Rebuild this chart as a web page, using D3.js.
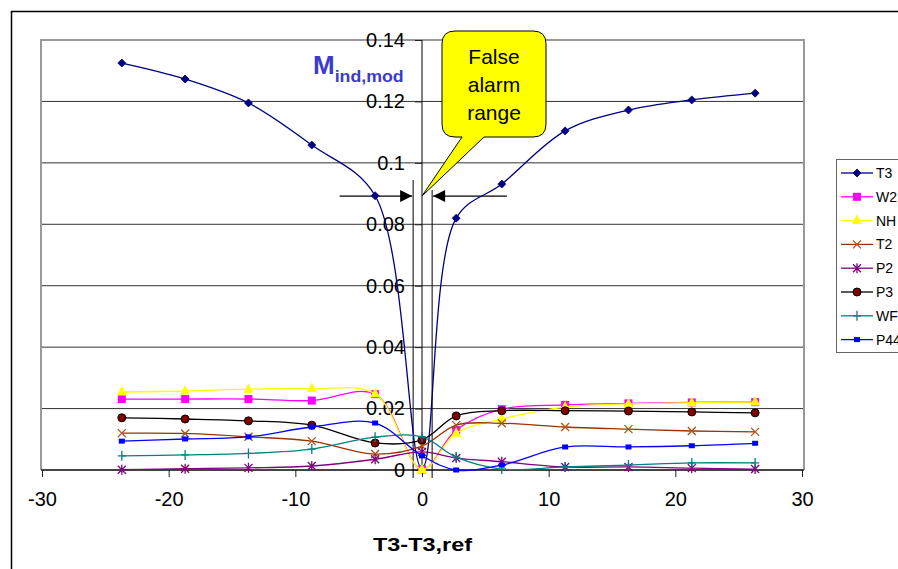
<!DOCTYPE html>
<html>
<head>
<meta charset="utf-8">
<script src="https://cdn.jsdelivr.net/npm/d3@7"></script>
<style>
  body { margin: 0; background: #fff; }
  svg { display: block; font-family: Arial, "Liberation Sans", sans-serif; }
</style>
</head>
<body>
<div class="vis"></div>
<script>
// x positions shared by all series (T3 - T3,ref)
const xVals = [-23.7, -18.7, -13.7, -8.7, -3.7, 0, 2.7, 6.3, 11.3, 16.3, 21.3, 26.3];

const t3  = [0.1325, 0.1273, 0.1195, 0.1058, 0.0893, 0.0005, 0.082, 0.0931, 0.1104, 0.1172, 0.1205, 0.1227];
const w2  = [0.0231, 0.0231, 0.0231, 0.0226, 0.0247, 0.0002, 0.013, 0.0198, 0.0212, 0.0217, 0.022, 0.0221];
const nh  = [0.0254, 0.0257, 0.0263, 0.0265, 0.0248, 0.0002, 0.012, 0.0166, 0.0205, 0.0215, 0.0219, 0.0221];
const t2  = [0.012, 0.0119, 0.0108, 0.0094, 0.0052, 0.0078, 0.0146, 0.0152, 0.014, 0.0133, 0.0127, 0.0124];
const p2  = [0.0001, 0.0004, 0.0007, 0.0013, 0.0035, 0.0059, 0.0039, 0.0027, 0.001, 0.001, 0.0006, 0.0003];
const p3  = [0.017, 0.0166, 0.016, 0.0146, 0.0088, 0.0098, 0.0176, 0.0193, 0.0193, 0.0192, 0.0189, 0.0186];
const wf  = [0.0046, 0.0049, 0.0054, 0.0068, 0.0107, 0.0108, 0.0042, 0.0003, 0.001, 0.0016, 0.0023, 0.0023];
const p44 = [0.0094, 0.0101, 0.0108, 0.014, 0.0153, 0.0046, 0.0, 0.0016, 0.0075, 0.0075, 0.0079, 0.0087];

const seriesNames = ["T3", "W2", "NH", "T2", "P2", "P3", "WF", "P44"];
const xTicks = [-30, -20, -10, 0, 10, 20, 30];
const yTicks = [0, 0.02, 0.04, 0.06, 0.08, 0.1, 0.12, 0.14];

const series = [
  { name: "T3",  values: t3,  line: "#000080", fill: "#000080", stroke: "#000080", marker: "diamond" },
  { name: "W2",  values: w2,  line: "#ff00ff", fill: "#ff00ff", stroke: "#ff00ff", marker: "square" },
  { name: "NH",  values: nh,  line: "#ffff00", fill: "#ffff00", stroke: "#ffff00", marker: "triangle" },
  { name: "T2",  values: t2,  line: "#993300", fill: "none",    stroke: "#b0501a", marker: "x" },
  { name: "P2",  values: p2,  line: "#800080", fill: "none",    stroke: "#800080", marker: "star" },
  { name: "P3",  values: p3,  line: "#000000", fill: "#800000", stroke: "#000000", marker: "circle" },
  { name: "WF",  values: wf,  line: "#008080", fill: "none",    stroke: "#008080", marker: "plus" },
  { name: "P44", values: p44, line: "#0000ff", fill: "#0000ff", stroke: "#0000ff", marker: "smallsquare" }
];

const W = 898, H = 569;
const plot = { left: 42, right: 802, top: 40, bottom: 470 };

const svg = d3.select(".vis").append("svg")
  .attr("width", W)
  .attr("height", H);

svg.append("rect").attr("width", W).attr("height", H).attr("fill", "#fff");

// outer chart border (runs off the right and bottom edge)
svg.append("path")
  .attr("d", `M11.5,${H + 5} V11.5 H${W + 5}`)
  .attr("fill", "none")
  .attr("stroke", "#000")
  .attr("stroke-width", 1.5);

const x = d3.scaleLinear().domain([-30, 30]).range([plot.left, plot.right]);
const y = d3.scaleLinear().domain([0, 0.14]).range([plot.bottom, plot.top]);

// gridlines
svg.append("g")
  .selectAll("line")
  .data(yTicks.filter(d => d > 0))
  .enter().append("line")
  .attr("x1", plot.left - 1)
  .attr("x2", plot.right + 2)
  .attr("y1", d => y(d))
  .attr("y2", d => y(d))
  .attr("stroke", "#333")
  .attr("stroke-width", 1);

// plot area frame
svg.append("path")
  .attr("d", `M${plot.left - 1},${plot.bottom} V${plot.top} H${plot.right + 2} V${plot.bottom}`)
  .attr("fill", "none")
  .attr("stroke", "#999")
  .attr("stroke-width", 2);

// x axis at y = 0
const xAxis = svg.append("g")
  .attr("transform", `translate(0,${y(0)})`)
  .call(d3.axisBottom(x).tickValues(xTicks).tickSize(7).tickPadding(15).tickFormat(d3.format("d")));
xAxis.select(".domain").attr("stroke", "#444").attr("stroke-width", 2)
  .attr("d", `M${plot.left - 1},0H${plot.right + 2}`);
xAxis.selectAll(".tick line").attr("stroke", "#222");
xAxis.selectAll(".tick text")
  .attr("font-size", 20)
  .attr("fill", "#000")
  .attr("font-family", "Arial, 'Liberation Sans', sans-serif")
  .text(d => d < 0 ? "-" + Math.abs(d) : d);

// y axis at x = 0
const yAxis = svg.append("g")
  .attr("transform", `translate(${x(0)},0)`)
  .call(d3.axisLeft(y).tickValues(yTicks).tickSize(7).tickPadding(10)
    .tickFormat(d => d === 0 ? "0" : String(+d.toFixed(2))));
yAxis.select(".domain").attr("stroke", "#000").attr("stroke-width", 1)
  .attr("d", `M0,${plot.top}V${plot.bottom}`);
yAxis.selectAll(".tick line").attr("stroke", "#222");
yAxis.selectAll(".tick text")
  .attr("font-size", 20)
  .attr("fill", "#000")
  .attr("font-family", "Arial, 'Liberation Sans', sans-serif");

// x title
svg.append("text")
  .attr("x", 373)
  .attr("y", 551)
  .attr("font-size", 19)
  .attr("font-weight", "bold")
  .attr("textLength", 99)
  .attr("lengthAdjust", "spacingAndGlyphs")
  .text("T3-T3,ref");

// y title
const yt = svg.append("text")
  .attr("x", 313)
  .attr("y", 74)
  .attr("fill", "#3b3bcc")
  .attr("font-weight", "bold");
yt.append("tspan").attr("font-size", 26).text("M");
yt.append("tspan").attr("font-size", 16).attr("dy", 8)
  .attr("textLength", 69).attr("lengthAdjust", "spacingAndGlyphs")
  .text("ind,mod");

// false alarm range lines
const faLo = -0.7, faHi = 0.8;
svg.append("g").selectAll("line")
  .data([[faLo, 180], [faHi, 190]])
  .enter().append("line")
  .attr("x1", d => x(d[0])).attr("x2", d => x(d[0]))
  .attr("y1", d => d[1]).attr("y2", 478)
  .attr("stroke", "#000").attr("stroke-width", 1);

// arrows
const defs = svg.append("defs");
defs.append("marker")
  .attr("id", "arrow")
  .attr("viewBox", "0 0 10 10")
  .attr("refX", 10).attr("refY", 5)
  .attr("markerWidth", 14).attr("markerHeight", 12)
  .attr("markerUnits", "userSpaceOnUse")
  .attr("orient", "auto")
  .append("path").attr("d", "M0,0 L10,5 L0,10 Z").attr("fill", "#000");

const arrowY = y(0.0892);
svg.append("line")
  .attr("x1", x(-6.5)).attr("x2", x(faLo) - 1)
  .attr("y1", arrowY).attr("y2", arrowY)
  .attr("stroke", "#000").attr("stroke-width", 1.2)
  .attr("marker-end", "url(#arrow)");
svg.append("line")
  .attr("x1", x(6.7)).attr("x2", x(faHi) + 1)
  .attr("y1", arrowY).attr("y2", arrowY)
  .attr("stroke", "#000").attr("stroke-width", 1.2)
  .attr("marker-end", "url(#arrow)");

// series lines
const line = d3.line()
  .x((d, i) => x(xVals[i]))
  .y(d => y(d))
  .curve(d3.curveCatmullRom.alpha(0.5));

const lineG = svg.append("g");

function drawMarker(g, type, fill, stroke) {
  switch (type) {
    case "diamond":
      g.append("path").attr("d", "M0,-4 L4,0 L0,4 L-4,0 Z").attr("fill", fill).attr("stroke", stroke).attr("stroke-width", 0.8);
      break;
    case "square":
      g.append("rect").attr("x", -4).attr("y", -4).attr("width", 8).attr("height", 8).attr("fill", fill);
      break;
    case "smallsquare":
      g.append("rect").attr("x", -3).attr("y", -2.5).attr("width", 6).attr("height", 5).attr("fill", fill);
      break;
    case "triangle":
      g.append("path").attr("d", "M0,-6 L5,3.5 L-5,3.5 Z").attr("fill", fill);
      break;
    case "x":
      g.append("path").attr("d", "M-4,-4 L4,4 M-4,4 L4,-4").attr("stroke", stroke).attr("stroke-width", 1.3);
      break;
    case "star":
      g.append("path").attr("d", "M-4,-4 L4,4 M-4,4 L4,-4 M0,-5 V5").attr("stroke", stroke).attr("stroke-width", 1.3);
      break;
    case "circle":
      g.append("circle").attr("r", 4).attr("fill", fill).attr("stroke", stroke).attr("stroke-width", 1);
      break;
    case "plus":
      g.append("path").attr("d", "M-4,0 H4 M0,-5 V5").attr("stroke", stroke).attr("stroke-width", 1.3);
      break;
  }
}

series.forEach(s => {
  const g = lineG.append("g").attr("class", "series");
  g.append("path")
    .datum(s.values)
    .attr("d", line)
    .attr("fill", "none")
    .attr("stroke", s.line)
    .attr("stroke-width", 1.3);
  g.selectAll(".pt")
    .data(s.values)
    .enter().append("g")
    .attr("class", "pt")
    .attr("transform", (d, i) => `translate(${x(xVals[i])},${y(d)})`)
    .each(function() { drawMarker(d3.select(this), s.marker, s.fill, s.stroke); });
});

// callout
const cx0 = 442, cx1 = 546, cy0 = 31, cy1 = 137, r = 13;
const tipX = x(0), tipY = arrowY;
const callout = `M${cx0 + r},${cy0} H${cx1 - r} Q${cx1},${cy0} ${cx1},${cy0 + r} V${cy1 - r} Q${cx1},${cy1} ${cx1 - r},${cy1}
  H484 L${tipX},${tipY} L462,${cy1} H${cx0 + r} Q${cx0},${cy1} ${cx0},${cy1 - r} V${cy0 + r} Q${cx0},${cy0} ${cx0 + r},${cy0} Z`;
svg.append("path")
  .attr("d", callout)
  .attr("fill", "#ffff00")
  .attr("stroke", "#000")
  .attr("stroke-width", 1);
svg.append("g").selectAll("text")
  .data(["False", "alarm", "range"])
  .enter().append("text")
  .attr("x", (cx0 + cx1) / 2)
  .attr("y", (d, i) => 64 + i * 28)
  .attr("text-anchor", "middle")
  .attr("font-size", 21)
  .text(d => d);

// legend
const legend = svg.append("g");
legend.append("rect")
  .attr("x", 836.5).attr("y", 159.5)
  .attr("width", 80).attr("height", 193)
  .attr("fill", "#fff").attr("stroke", "#666").attr("stroke-width", 1);
const items = legend.selectAll(".item")
  .data(series)
  .enter().append("g")
  .attr("class", "item")
  .attr("transform", (d, i) => `translate(0,${173 + i * 23.8})`);
items.append("line")
  .attr("x1", 841).attr("x2", 873)
  .attr("stroke", d => d.line).attr("stroke-width", 1.3);
items.append("g")
  .attr("transform", "translate(857,0)")
  .each(function(d) { drawMarker(d3.select(this), d.marker, d.fill, d.stroke); });
items.append("text")
  .attr("x", 876).attr("y", 5)
  .attr("font-size", 14)
  .text((d, i) => seriesNames[i]);
</script>
</body>
</html>
